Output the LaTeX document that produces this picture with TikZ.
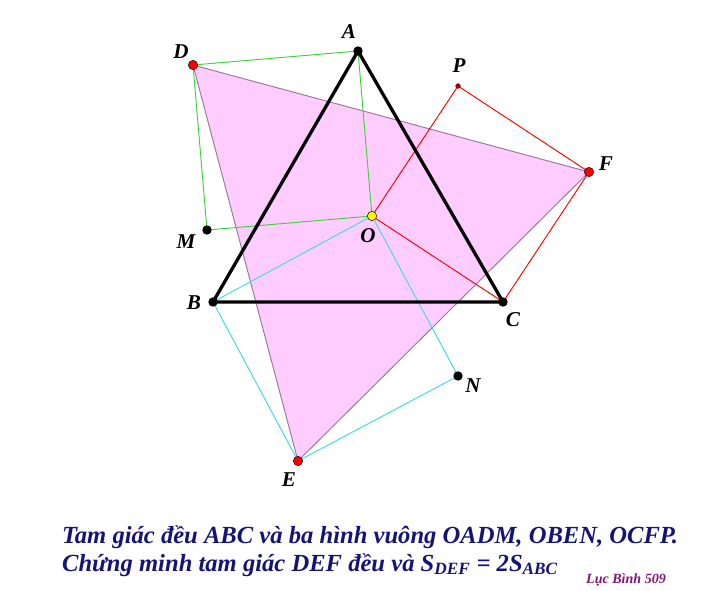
\documentclass[tikz,border=0pt]{standalone}
\usepackage{fontspec}
\setmainfont{Liberation Serif}
\definecolor{hong}{RGB}{255,204,255}
\definecolor{vien}{RGB}{150,120,150}
\definecolor{xanhla}{RGB}{60,210,60}
\definecolor{xanhlam}{RGB}{60,220,230}
\definecolor{chu}{RGB}{20,20,120}
\definecolor{tim}{RGB}{130,20,120}
\tikzset{
  dinh/.style={circle, fill=black, inner sep=0pt, minimum size=8pt},
  dinhdo/.style={circle, draw=black, fill=red, inner sep=0pt, minimum size=8pt, line width=0.4pt},
  nhan/.style={font=\fontsize{18}{18}\selectfont\bfseries\itshape}
}
\begin{document}
\begin{tikzpicture}[x=0.03cm, y=-0.03cm]
\useasboundingbox (0,0) rectangle (722,591);
\coordinate (A) at (358,51);
\coordinate (B) at (213,302);
\coordinate (C) at (503,302);
\coordinate (O) at (372,216);
\coordinate (D) at (193,65);
\coordinate (M) at (207,230);
\coordinate (E) at (298,461);
\coordinate (N) at (458,376);
\coordinate (F) at (589,172);
\coordinate (P) at (458,86);
\fill[hong] (D) -- (E) -- (F) -- cycle; % tam giac DEF
\draw[vien, line width=0.8pt] (D) -- (E) -- (F) -- cycle;
\draw[xanhla, line width=0.8pt] (O) -- (A) -- (D) -- (M) -- cycle; % OADM
\draw[xanhlam, line width=0.8pt] (O) -- (B) -- (E) -- (N) -- cycle; % OBEN
\draw[red, line width=0.8pt] (O) -- (C) -- (F) -- (P) -- cycle; % OCFP
\draw[line width=2.8pt, line join=miter] (A) -- (B) -- (C) -- cycle; % ABC
% cac diem
\node[dinh] at (A) {};
\node[dinh] at (B) {};
\node[dinh] at (C) {};
\node[dinh] at (M) {};
\node[dinh] at (N) {};
\node[dinhdo] at (D) {};
\node[dinhdo] at (E) {};
\node[dinhdo] at (F) {};
\node[circle, draw=black, fill=yellow, inner sep=0pt, minimum size=8pt, line width=0.4pt] at (O) {};
\node[circle, draw=black!60!red, fill=red!70!black, inner sep=0pt, minimum size=4pt] at (P) {};
% nhan
\node[nhan] at (349,32) {A};
\node[nhan] at (194,303) {B};
\node[nhan] at (513,320) {C};
\node[nhan] at (181,52) {D};
\node[nhan] at (289,480) {E};
\node[nhan] at (606,164) {F};
\node[nhan] at (186,242) {M};
\node[nhan] at (473,386) {N};
\node[nhan] at (368,236) {O};
\node[nhan] at (459,66) {P};
% de bai
\node[anchor=base west, text=chu, font=\fontsize{21}{21}\selectfont\bfseries\itshape] (de1) at (58,543) {Tam giác đều ABC và ba hình vuông OADM, OBEN, OCFP.};
\node[anchor=base west, text=chu, font=\fontsize{21}{21}\selectfont\bfseries\itshape] (de2) at (58,571) {Chứng minh tam giác DEF đều và S\textsubscript{DEF} = 2S\textsubscript{ABC}};
\node[anchor=base east, text=tim, font=\fontsize{12}{12}\selectfont\bfseries\itshape] (ten) at (670,583) {Lục Bình 509};
\end{tikzpicture}
\end{document}
